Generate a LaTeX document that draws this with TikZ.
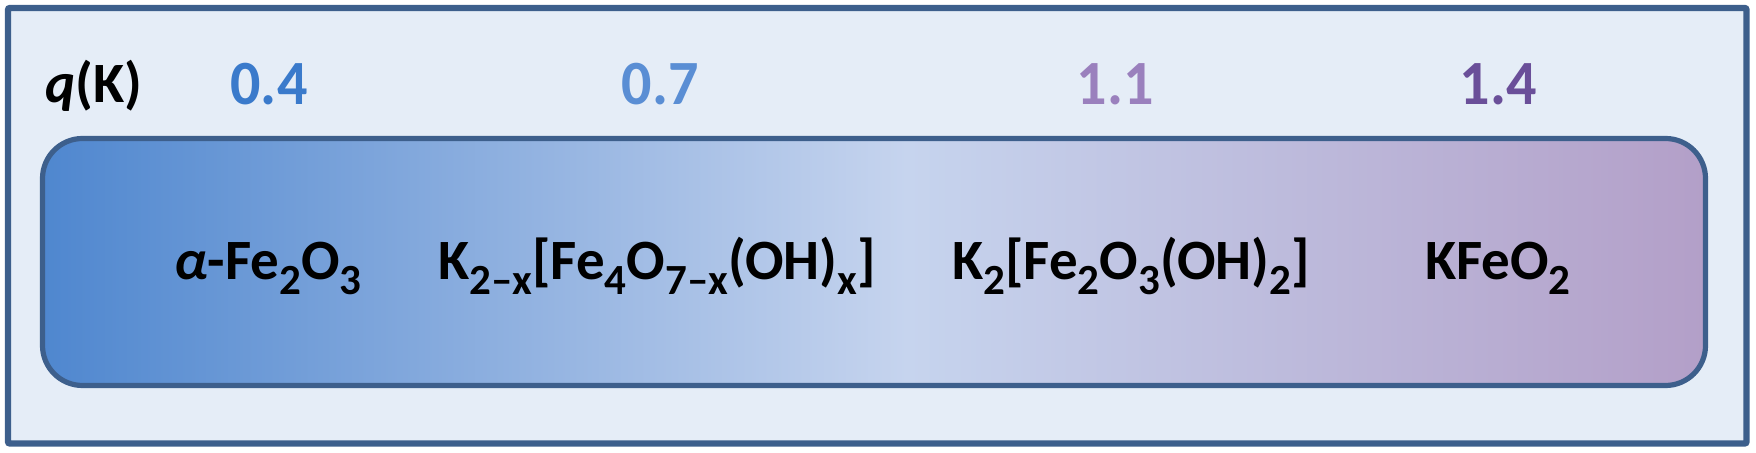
\documentclass[tikz,border=0pt]{standalone}
\usepackage{fontspec}
\setmainfont{Carlito}
\usetikzlibrary{positioning, calc}

\definecolor{framecol}{HTML}{3D5F8C}
\definecolor{panelbg}{HTML}{E5EDF7}
\definecolor{barleft}{HTML}{4F87CF}
\definecolor{barmid}{HTML}{C6D4EE}
\definecolor{barright}{HTML}{B39FC8}
\definecolor{qa}{HTML}{3A7ACB}
\definecolor{qb}{HTML}{5A8ED4}
\definecolor{qc}{HTML}{9A80BD}
\definecolor{qd}{HTML}{6A4F99}

\pgfdeclarehorizontalshading{phasebar}{100bp}{color(0bp)=(barleft); color(25bp)=(barleft); color(51bp)=(barmid); color(75bp)=(barright); color(100bp)=(barright)}

\newcommand{\chsub}[1]{\raisebox{-7.5pt}{\fontsize{21.5}{21.5}\selectfont #1}}
\newcommand{\qnum}[1]{\scalebox{1}[1.05]{#1}}

\begin{document}
\begin{tikzpicture}[x=0.5pt, y=-0.5pt]
		\tikzset{
			outerbox/.style={draw=framecol, line width=3.2pt, fill=panelbg, rounded corners=1pt, inner sep=0pt},
			phasebox/.style={draw=framecol, line width=2.6pt, rounded corners=20pt, shading=phasebar, minimum width=831.5pt, minimum height=123.5pt, inner sep=0pt},
			formula/.style={anchor=base, font=\fontsize{28.5}{34}\selectfont\bfseries, inner sep=0pt},
			qval/.style={anchor=base, font=\fontsize{30}{36}\selectfont\bfseries, inner sep=0pt}
		}
		\useasboundingbox (0,0) rectangle (1756,453);
		
		% Frame and bar
		\node[outerbox, minimum width=869.25pt, minimum height=217.75pt] (panel) at (877.25,225.75) {};
		\node[phasebox] (bar) at (874,262) {};
		
		% q(K) values
		\node[formula] (qlabel) at (94,103) {\textit{q}(K)};
		\node[qval, text=qa] (qhem) at (269,105) {\qnum{0.4}};
		\node[qval, text=qb] (qmix) at (660,105) {\qnum{0.7}};
		\node[qval, text=qc] (qhyd) at (1115,105) {\qnum{1.1}};
		\node[qval, text=qd] (qkfe) at (1498,105) {\qnum{1.4}};
		
		% Phases
		\node[formula] (hem) at (268,280) {\textit{α}-Fe\chsub{2}O\chsub{3}};
		\node[formula] (mix) at (657,280) {K\chsub{2\textendash x}[Fe\chsub{4}O\chsub{7\textendash x}(OH)\chsub{x}]};
		\node[formula] (hyd) at (1131,280) {K\chsub{2}[Fe\chsub{2}O\chsub{3}(OH)\chsub{2}]};
		\node[formula] (kfe) at (1498,280) {KFeO\chsub{2}};
		
	\end{tikzpicture}
\end{document}
